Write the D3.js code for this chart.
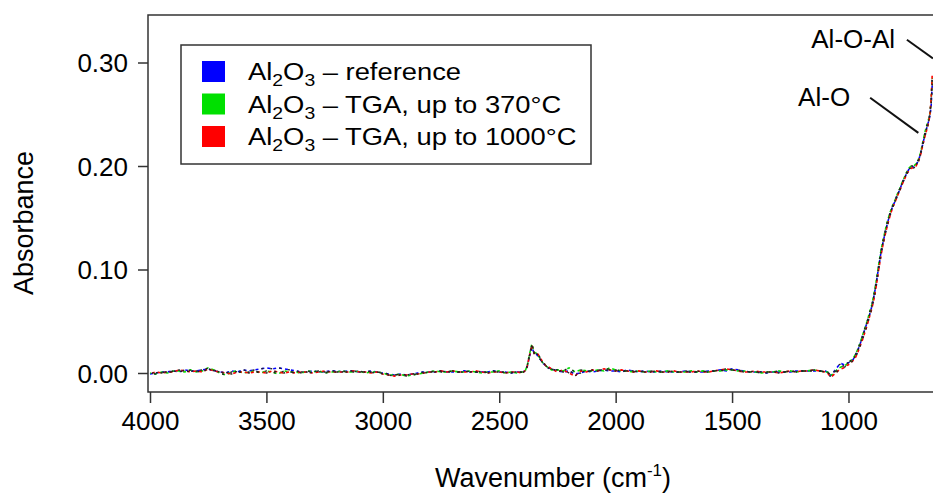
<!DOCTYPE html>
<html>
<head>
<meta charset="utf-8">
<script src="https://cdn.jsdelivr.net/npm/d3@7"></script>
<style>
  body { margin: 0; background: #fff; }
  svg text { font-family: "Liberation Sans", Arial, sans-serif; fill: #000; }
</style>
</head>
<body>
<div id="root"></div>
<script>
// wavenumbers (cm-1), shared by the three spectra
let wavenumber = [
  4000, 3975, 3950, 3925, 3900, 3875, 3850, 3825, 3800,
  3775, 3750, 3725, 3700, 3675, 3650, 3625, 3600,
  3575, 3550, 3525, 3500, 3475, 3450, 3425, 3400,
  3375, 3350, 3325, 3300, 3275, 3250, 3225, 3200,
  3175, 3150, 3125, 3100, 3075, 3050, 3025, 3000,
  2975, 2950, 2925, 2900, 2875, 2850, 2825, 2800,
  2775, 2750, 2725, 2700, 2675, 2650, 2625, 2600,
  2575, 2550, 2525, 2500, 2475, 2450, 2425, 2400,
  2390, 2380, 2370, 2360, 2350, 2340, 2330, 2320, 2310, 2300, 2290, 2275,
  2250, 2225, 2200, 2175, 2150, 2125, 2100, 2075,
  2050, 2025, 2000, 1975, 1950, 1925, 1900, 1875,
  1850, 1825, 1800, 1775, 1750, 1725, 1700, 1675,
  1650, 1625, 1600, 1575, 1550, 1525, 1500, 1475,
  1450, 1425, 1400, 1375, 1350, 1325, 1300, 1275,
  1250, 1225, 1200, 1175, 1150, 1125, 1100,
  1090, 1080, 1070, 1060, 1050, 1040, 1030, 1020, 1010, 1000,
  990, 980, 970, 960, 950, 940, 930, 920, 910, 900,
  890, 880, 870, 860, 850, 840, 830, 820, 810, 800,
  790, 780, 770, 760, 750, 740, 730, 720, 710, 700,
  690, 680, 670, 660, 655, 650, 645, 640
];

// absorbance x 1000
let reference = [
  -1, 0, 1, 1, 2, 1, 3, 2, 2,
  3, 4, 2, 1, 0, 2, 1, 3,
  2, 3, 4, 5, 4, 5, 4, 3,
  2, 1, 1, 2, 1, 1, 2, 2,
  1, 2, 2, 1, 1, 2, 1, 0,
  -1, -2, -1, -2, -1, 0, 1, 1,
  1, 2, 1, 1, 1, 2, 1, 1,
  1, 1, 2, 1, 1, 0, 1, 1,
  2, 6, 16, 25, 19, 18, 15, 12, 9, 7, 5, 4,
  2, 1, 2, -1, 0, 2, 1, 2,
  3, 2, 2, 1, 3, 2, 1, 2,
  1, 1, 2, 1, 1, 1, 2, 1,
  1, 1, 2, 2, 3, 2, 4, 3,
  2, 1, 1, 1, 0, 1, 1, 1,
  1, 2, 2, 2, 2, 2, 2,
  1, -2, -2, 2, 5, 8, 9, 8, 9, 10,
  11, 13, 17, 22, 28, 35, 42, 49, 56, 64,
  75, 88, 103, 117, 128, 138, 147, 155, 161, 166,
  172, 177, 183, 188, 193, 197, 199, 199, 201, 205,
  212, 222, 232, 240, 244, 249, 258, 280
];

let tga370 = [
  0, -1, 1, 0, 2, 2, 1, 3, 1,
  2, 5, 3, 0, -2, 1, 2, 0,
  1, 2, 0, 2, 1, -1, 2, 1,
  1, 0, 2, 1, 2, 0, 1, 1,
  2, 1, 1, 2, 0, 1, 1, 0,
  -2, -2, -1, -3, -2, -1, 0, 1,
  2, 1, 1, 2, 1, 1, 2, 1,
  0, 1, 1, 2, 0, 1, 0, 1,
  1, 7, 18, 28, 20, 19, 16, 12, 9, 7, 5, 3,
  3, 2, 5, 1, 3, 2, 2, 3,
  2, 5, 3, 2, 2, 1, 2, 1,
  2, 1, 1, 2, 1, 1, 1, 2,
  1, 2, 1, 2, 2, 3, 3, 2,
  2, 1, 1, 0, 1, 1, 2, 1,
  2, 1, 2, 2, 3, 2, 1,
  1, -1, -2, 0, 3, 5, 6, 7, 8, 10,
  12, 14, 18, 23, 29, 36, 43, 50, 58, 66,
  77, 90, 105, 119, 130, 140, 149, 156, 162, 167,
  173, 178, 184, 189, 194, 198, 200, 200, 202, 206,
  213, 224, 234, 242, 246, 251, 262, 285
];

let tga1000 = [
  -1, 1, 0, 1, 1, 3, 2, 1, 2,
  1, 4, 2, 1, 0, -1, 1, 1,
  0, 1, 1, 0, 2, 1, 0, 1,
  0, 1, 1, 0, 1, 2, 1, 1,
  1, 1, 2, 1, 1, 0, 1, -1,
  -2, -3, -2, -2, -1, -1, 0, 1,
  1, 2, 1, 2, 1, 1, 1, 2,
  1, 0, 1, 1, 0, 1, 1, 0,
  2, 6, 17, 27, 19, 20, 17, 13, 10, 7, 6, 4,
  1, 3, 0, -3, 2, 1, 3, 2,
  4, 3, 2, 3, 2, 1, 2, 1,
  1, 2, 1, 1, 2, 1, 1, 1,
  2, 1, 1, 2, 3, 4, 3, 2,
  1, 1, 2, 1, 1, 1, 0, 1,
  2, 1, 2, 2, 3, 2, 1,
  0, -3, -3, -1, 1, 3, 4, 5, 7, 8,
  10, 12, 15, 20, 26, 32, 39, 46, 54, 62,
  72, 85, 100, 114, 126, 136, 145, 153, 160, 165,
  171, 176, 182, 187, 192, 196, 198, 198, 200, 204,
  211, 221, 230, 238, 243, 250, 265, 290
];

let seriesNames = ["reference", "TGA, up to 370°C", "TGA, up to 1000°C"];
let seriesColors = ["#0000ff", "#00e000", "#ff0000"];
let xTicks = [4000, 3500, 3000, 2500, 2000, 1500, 1000];
let yTicks = [0, 0.1, 0.2, 0.3];

// annotations: label, text anchor point, pointer start, pointer end (wavenumber, absorbance)
let annotations = [
  { label: "Al-O-Al", tx: 800, ty: 0.314, x1: 749, y1: 0.322, x2: 637, y2: 0.304 },
  { label: "Al-O", tx: 993, ty: 0.258, x1: 907, y1: 0.266, x2: 700, y2: 0.232 }
];

// set the dimensions
let width = 933, height = 493;
let plot = { left: 150, right: 933, top: 15, bottom: 392 };

let x = d3.scaleLinear().domain([4000, 637]).range([plot.left, plot.right]);
let y = d3.scaleLinear().domain([-0.01836, 0.3459]).range([plot.bottom, plot.top]);

let svg = d3.select("#root").append("svg")
  .attr("width", width)
  .attr("height", height);

let data = [reference, tga370, tga1000].map((vals) =>
  vals.map((v, i) => ({ wn: wavenumber[i], a: v / 1000 }))
);

let valueline = d3.line()
  .x((d) => x(d.wn))
  .y((d) => y(d.a));

// spectra: coloured dashes with dark dashes in the gaps
let offsets = [0, 2, 4];
data.forEach((d, i) => {
  svg.append("path").datum(d)
    .attr("fill", "none")
    .attr("stroke", seriesColors[i])
    .attr("stroke-width", 1.6)
    .attr("stroke-dasharray", "3,3")
    .attr("stroke-dashoffset", offsets[i])
    .attr("d", valueline);
});
data.forEach((d, i) => {
  svg.append("path").datum(d)
    .attr("fill", "none")
    .attr("stroke", "#222")
    .attr("stroke-width", 1.4)
    .attr("stroke-dasharray", "2,7")
    .attr("stroke-dashoffset", offsets[i] + 3)
    .attr("d", valueline);
});

// frame: top, left, bottom
svg.append("path")
  .attr("d", `M${plot.right},${plot.top}H${plot.left - 2}V${plot.bottom}H${plot.right}`)
  .attr("fill", "none")
  .attr("stroke", "#333")
  .attr("stroke-width", 1.5);

// x axis
let xAxis = svg.append("g")
  .attr("transform", "translate(0," + plot.bottom + ")")
  .call(d3.axisBottom(x).tickValues(xTicks).tickSize(11).tickSizeOuter(0).tickFormat(d3.format("d")));
xAxis.select(".domain").remove();
xAxis.selectAll("line").attr("stroke", "#333").attr("stroke-width", 1.5);
xAxis.selectAll("text").attr("font-size", 26).attr("font-family", null).attr("dy", null).attr("y", 38);

// y axis
let yAxis = svg.append("g")
  .attr("transform", "translate(" + (plot.left - 2) + ",0)")
  .call(d3.axisLeft(y).tickValues(yTicks).tickSize(10).tickSizeOuter(0).tickFormat(d3.format(".2f")));
yAxis.select(".domain").remove();
yAxis.selectAll("line").attr("stroke", "#333").attr("stroke-width", 1.5);
yAxis.selectAll("text").attr("font-size", 26).attr("font-family", null).attr("x", -20).attr("dy", "0.35em");

// axis titles
svg.append("text")
  .attr("transform", "translate(33,223) rotate(-90)")
  .attr("text-anchor", "middle")
  .attr("font-size", 27)
  .text("Absorbance");

let xt = svg.append("text")
  .attr("x", 553).attr("y", 487)
  .attr("text-anchor", "middle")
  .attr("font-size", 27)
  .text("Wavenumber (cm");
xt.append("tspan").attr("dy", -11).attr("font-size", 17).text("-1");
xt.append("tspan").attr("dy", 11).text(")");

// annotations
annotations.forEach((a) => {
  svg.append("text")
    .attr("x", x(a.tx)).attr("y", y(a.ty))
    .attr("text-anchor", "end")
    .attr("font-size", 26)
    .text(a.label);
  svg.append("line")
    .attr("x1", x(a.x1)).attr("y1", y(a.y1))
    .attr("x2", x(a.x2)).attr("y2", y(a.y2))
    .attr("stroke", "#111")
    .attr("stroke-width", 2);
});

// legend
let legend = svg.append("g");
legend.append("rect")
  .attr("x", 181).attr("y", 45)
  .attr("width", 410).attr("height", 119)
  .attr("fill", "#fff")
  .attr("stroke", "#333")
  .attr("stroke-width", 1.5);

seriesNames.forEach((name, i) => {
  let row = legend.append("g").attr("transform", "translate(0," + (i * 32.5) + ")");
  row.append("rect")
    .attr("x", 202).attr("y", 61)
    .attr("width", 23).attr("height", 21)
    .attr("fill", seriesColors[i]);
  let t = row.append("text")
    .attr("transform", "translate(248,80) scale(1.14,1)")
    .attr("font-size", 24);
  t.append("tspan").text("Al");
  t.append("tspan").attr("font-size", 17).attr("dy", 6).text("2");
  t.append("tspan").attr("dy", -6).text("O");
  t.append("tspan").attr("font-size", 17).attr("dy", 6).text("3");
  t.append("tspan").attr("dy", -6).text(" – " + name);
});
</script>
</body>
</html>
